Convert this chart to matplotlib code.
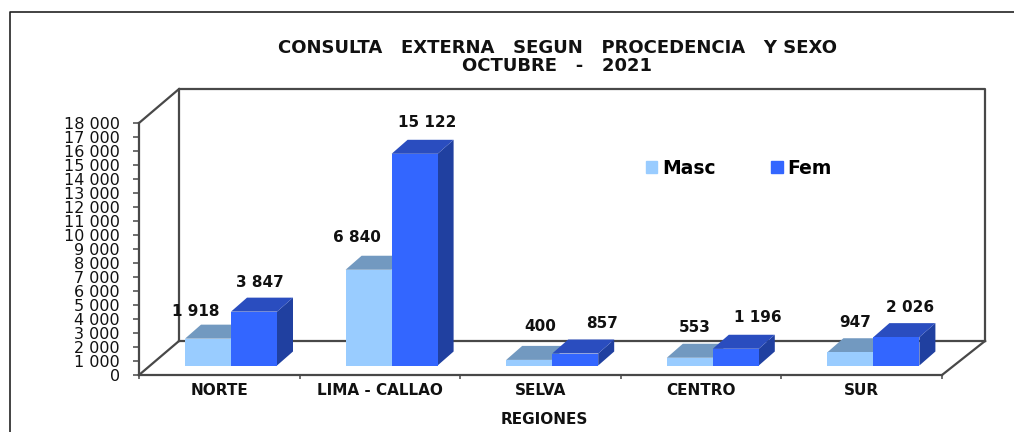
import matplotlib
matplotlib.use("Agg")
import matplotlib.pyplot as plt
from matplotlib.lines import Line2D
from matplotlib.patches import Patch, Polygon
import numpy as np

regiones = ["NORTE", "LIMA - CALLAO", "SELVA", "CENTRO", "SUR"]
masc = [1918, 6840, 400, 553, 947]
fem = [3847, 15122, 857, 1196, 2026]
y_ticks = list(range(0, 19000, 1000))

W, H = 1014, 432
LEFT, RIGHT, TOP, BOTTOM = 139, 942, 123, 375

C_MASC = "#99CCFF"
C_MASC_TOP = "#7299C0"
C_FEM = "#3366FF"
C_FEM_TOP = "#2A4DBF"
C_FEM_SIDE = "#2040A0"
C_LINE = "#484848"
INK = "#111111"

plt.rcParams["font.family"] = ["DejaVu Sans"]

fig = plt.figure(figsize=(W / 100, H / 100), dpi=100, facecolor="white")
ax = fig.add_axes([LEFT / W, 1 - BOTTOM / H, (RIGHT - LEFT) / W, (BOTTOM - TOP) / H])
ax.set_xlim(0, len(regiones))
ax.set_ylim(0, 18000)
ax.patch.set_visible(False)

px_x = len(regiones) / (RIGHT - LEFT)   # one pixel, in category units
px_y = 18000 / (BOTTOM - TOP)           # one pixel, in value units

# box walls and floor
dxl, dxr, dy = 40 * px_x, 43 * px_x, 34 * px_y
n = len(regiones)
wall = dict(color=C_LINE, lw=1.6, clip_on=False, zorder=1, solid_capstyle="projecting")
ax.plot([dxl, dxl, n + dxr, n + dxr], [dy, 18000 + dy, 18000 + dy, dy], **wall)
ax.plot([dxl, n + dxr], [dy, dy], **wall)
ax.plot([0, dxl], [18000, 18000 + dy], **wall)
ax.plot([0, dxl], [0, dy], **wall)
ax.plot([n, n + dxr], [0, dy], **wall)

# bars, standing a bit inside the floor
x = np.arange(n)
bar_w = 46 * px_x
x_masc = x + 46 * px_x
x_fem = x_masc + bar_w
base = 9.5 * px_y
bx, by = 16 * px_x, 14 * px_y


def top_face(x0, v):
    y1 = base + v
    return [(x0, y1), (x0 + bar_w, y1), (x0 + bar_w + bx, y1 + by), (x0 + bx, y1 + by)]


def side_face(x0, v):
    x1 = x0 + bar_w
    return [(x1, base), (x1 + bx, base + by), (x1 + bx, base + v + by), (x1, base + v)]


ax.bar(x_masc, masc, bar_w, bottom=base, align="edge", color=C_MASC, zorder=3, clip_on=False)
ax.bar(x_fem, fem, bar_w, bottom=base, align="edge", color=C_FEM, zorder=5, clip_on=False)
for i in range(n):
    ax.add_patch(Polygon(top_face(x_masc[i], masc[i]), fc=C_MASC_TOP, ec="none", zorder=2, clip_on=False))
    ax.add_patch(Polygon(side_face(x_fem[i], fem[i]), fc=C_FEM_SIDE, ec="none", zorder=4, clip_on=False))
    ax.add_patch(Polygon(top_face(x_fem[i], fem[i]), fc=C_FEM_TOP, ec="none", zorder=4, clip_on=False))


def miles(v):
    return f"{v:,}".replace(",", " ")


# value labels, offset in pixels from the bar's front top centre
nudge_masc = [(-12, 27), (-12, 32), (11, 33), (5, 30), (5, 30)]
nudge_fem = [(6, 29), (13, 31), (27, 30), (22, 31), (14, 30)]
for xs, vals, nudges in ((x_masc, masc, nudge_masc), (x_fem, fem, nudge_fem)):
    for x0, v, (ox, oy) in zip(xs, vals, nudges):
        ax.annotate(miles(v), (x0 + bar_w / 2, base + v), xytext=(ox * 0.72, oy * 0.72),
                    textcoords="offset points", ha="center", va="center", fontsize=11,
                    fontweight="bold", color=INK, zorder=7, annotation_clip=False)

# axes
for s in ("top", "right"):
    ax.spines[s].set_visible(False)
for s in ("left", "bottom"):
    ax.spines[s].set_color(C_LINE)
    ax.spines[s].set_linewidth(1.6)
ax.set_yticks(y_ticks)
ax.set_yticklabels([miles(v) for v in y_ticks], fontsize=11.5, color=INK)
ax.tick_params(axis="y", length=4.3, width=1.1, color=C_LINE, pad=9.5)
ax.set_xticks(np.arange(n + 1))
ax.set_xticklabels([""] * (n + 1))
ax.tick_params(axis="x", which="major", length=3, width=1.1, color=C_LINE)
ax.set_xticks(x + 0.5, minor=True)
ax.set_xticklabels(regiones, minor=True, fontsize=11, fontweight="bold", color=INK)
ax.tick_params(axis="x", which="minor", length=0, pad=6)
ax.set_xlabel("REGIONES", fontsize=11, fontweight="bold", color=INK)
ax.xaxis.set_label_coords((544 - LEFT) / (RIGHT - LEFT), -(419 - BOTTOM) / (BOTTOM - TOP), ax.transAxes)
ax.xaxis.label.set_va("center")

ax.legend(handles=[Patch(color=C_MASC, label="Masc"), Patch(color=C_FEM, label="Fem")],
          ncol=2, frameon=False, prop={"size": 13.5, "weight": "bold"},
          handlelength=0.6, handleheight=0.6, handletextpad=0.27, columnspacing=2.95,
          loc="center left", borderaxespad=0, borderpad=0,
          bbox_to_anchor=((646 - LEFT) / (RIGHT - LEFT), (BOTTOM - 168) / (BOTTOM - TOP)))

fig.text(557 / W, 1 - 57 / H, "CONSULTA   EXTERNA   SEGUN   PROCEDENCIA   Y SEXO\nOCTUBRE   -   2021",
         ha="center", va="center", fontsize=13, fontweight="bold", color=INK, linespacing=1.05)

# outer frame, cut by the image on the right and bottom
fig.add_artist(Line2D([10 / W, 10 / W, 1], [0, 1 - 11.5 / H, 1 - 11.5 / H], color="#222222", lw=1.2))

fig.savefig("out.png", dpi=100, facecolor="white")
